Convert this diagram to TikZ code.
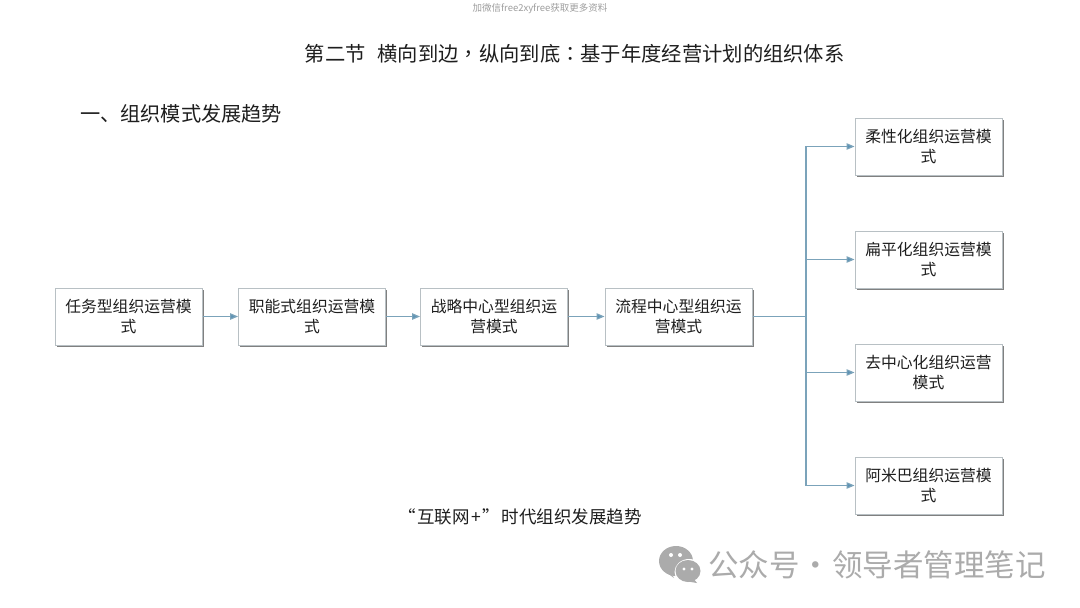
\documentclass[tikz,border=0pt]{standalone}
\usepackage{fontspec}
\setmainfont{Noto Sans CJK SC}
\newfontfamily\tcpunct{Noto Sans CJK TC}
\usetikzlibrary{arrows.meta,shadows}
\definecolor{linkc}{HTML}{7BA3BA}
\definecolor{tipc}{HTML}{5B92B5}
\definecolor{boxc}{HTML}{B8C0C4}
\definecolor{inkc}{HTML}{1E1E1E}
\definecolor{markc}{HTML}{ABABAB}
\tikzset{
  orgbox/.style={draw=boxc,line width=1pt,fill=white,minimum width=147pt,minimum height=57pt,
    inner sep=0pt,align=center,text=inkc,font=\fontsize{15.8}{19.5}\selectfont,
    drop shadow={shadow xshift=1.6pt,shadow yshift=-1.6pt,fill=black!50,opacity=1}},
  link/.style={draw=linkc,line width=1.2pt,-{Triangle[length=8pt,width=6.5pt,fill=tipc]}},
  plain/.style={draw=linkc,line width=1.2pt},
  tlabel/.style={text=inkc,inner sep=0pt}
}
\begin{document}
\begin{tikzpicture}[x=1pt,y=-1pt]
\useasboundingbox[fill=white] (0,0) rectangle (1080,608);
\node[inner sep=0pt,text=black!38,font=\fontsize{9.5}{11}\selectfont] (top) at (540,9) {加微信free2xyfree获取更多资料};
\node[tlabel,anchor=west,font=\fontsize{20.3}{24}\selectfont] (title) at (304.5,54) {第二节\hspace{12pt}横向到边{\tcpunct ，}纵向到底{\tcpunct ：}基于年度经营计划的组织体系};
\node[tlabel,anchor=west,font=\fontsize{20.2}{24}\selectfont] (head) at (80,114) {一、组织模式发展趋势};
\node[orgbox] (a) at (128.5,316.5) {任务型组织运营模\\式};
\node[orgbox] (b) at (312,316.5) {职能式组织运营模\\式};
\node[orgbox] (c) at (494,316.5) {战略中心型组织运\\营模式};
\node[orgbox] (d) at (678.5,316.5) {流程中心型组织运\\营模式};
\node[orgbox] (e) at (928.5,146.5) {柔性化组织运营模\\式};
\node[orgbox] (f) at (928.5,259.5) {扁平化组织运营模\\式};
\node[orgbox] (g) at (928.5,372.5) {去中心化组织运营\\模式};
\node[orgbox] (h) at (928.5,485.5) {阿米巴组织运营模\\式};
\draw[link] (a) -- (b);
\draw[link] (b) -- (c);
\draw[link] (c) -- (d);
\coordinate (j) at (806,316.5);
\draw[plain] (d) -- (j);
\draw[link] (j) |- (e.west);
\draw[link] (j) |- (f.west);
\draw[link] (j) |- (g.west);
\draw[link] (j) |- (h.west);
\node[tlabel,anchor=west,font=\fontsize{17.5}{20}\selectfont] (cap) at (398,517) {“\hspace{1.5pt}互联网\hspace{2pt}+\hspace{1pt}”\hspace{2pt}时代组织发展趋势};
% watermark
\fill[markc] (676,561) ellipse (17 and 15);
\fill[markc] (666,572) -- (670,571) -- (674,578) -- cycle;
\fill[white] (689,572) ellipse (14.5 and 13);
\fill[markc] (688,571) ellipse (12.5 and 11);
\fill[markc] (693,578) -- (697,583) -- (685,581) -- cycle;
\fill[white] (671,555) circle (2) (680,555) circle (2) (684,569) circle (1.7) (692,569) circle (1.7);
\node[inner sep=0pt,anchor=west,text=markc,font=\fontsize{30.5}{33}\selectfont] (wm) at (708,565) {公众号\hspace{1pt}·\hspace{1pt}领导者管理笔记};
\end{tikzpicture}
\end{document}
